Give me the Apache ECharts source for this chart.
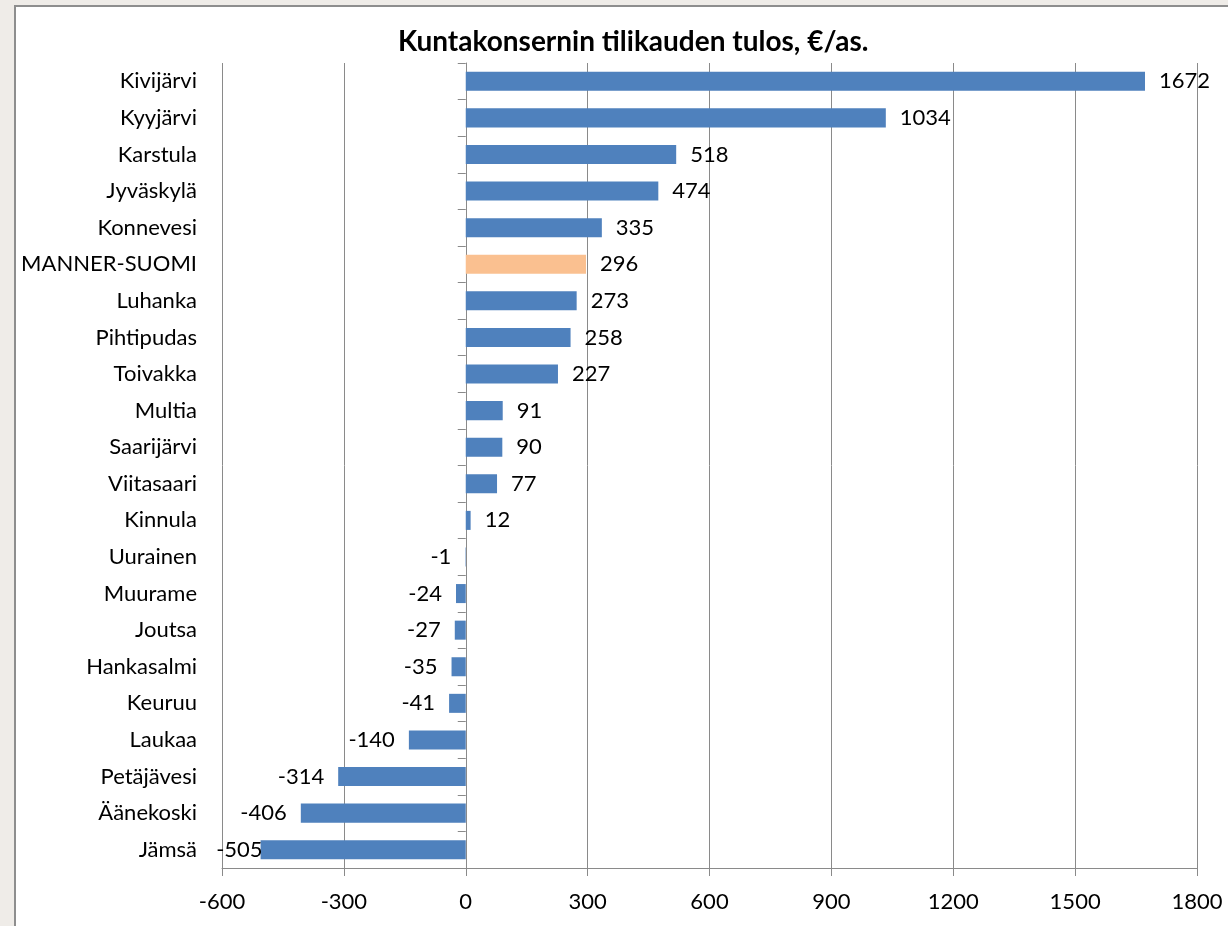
<!DOCTYPE html>
<html>
<head>
<meta charset="utf-8">
<script src="https://cdn.jsdelivr.net/npm/echarts@6/dist/echarts.min.js"></script>
<style>
  html, body { margin: 0; padding: 0; background: #EFECE8; }
  #frame { position: absolute; left: 14px; top: 5px; width: 1300px; height: 1000px;
           background: #fff; border: 2px solid #8e8e8e; }
  #chart { position: absolute; left: 0; top: 0; width: 1228px; height: 926px; }
</style>
</head>
<body>
<div id="frame"></div>
<div id="chart"></div>
<script>
// Municipalities, top to bottom
const municipalities = [
  'Kivijärvi', 'Kyyjärvi', 'Karstula', 'Jyväskylä', 'Konnevesi', 'MANNER-SUOMI',
  'Luhanka', 'Pihtipudas', 'Toivakka', 'Multia', 'Saarijärvi', 'Viitasaari',
  'Kinnula', 'Uurainen', 'Muurame', 'Joutsa', 'Hankasalmi', 'Keuruu',
  'Laukaa', 'Petäjävesi', 'Äänekoski', 'Jämsä'
];
// Group result of the municipal consortium, €/inhabitant
const results = [
  1672, 1034, 518, 474, 335, 296,
  273, 258, 227, 91, 90, 77,
  12, -1, -24, -27, -35, -41,
  -140, -314, -406, -505
];
const referenceName = 'MANNER-SUOMI';
const xTicks = { min: -600, max: 1800, step: 300 };

const FONT = 'Lato, "Open Sans", sans-serif';
const FS = 22;
const barColor = '#4F81BD';
const refColor = '#FAC090';
const gridColor = '#8a8a8a';

const seriesData = results.map((v, i) => {
  const item = { value: v, itemStyle: { color: municipalities[i] === referenceName ? refColor : barColor } };
  const label = { position: v < 0 ? 'left' : 'right' };
  // the longest negative label is pushed back inside the plot edge
  if (v < xTicks.min + 110) label.offset = [16, 0];
  item.label = label;
  return item;
});

const chart = echarts.init(document.getElementById('chart'), null, { renderer: 'canvas' });
chart.setOption({
  animation: false,
  title: {
    text: 'Kuntakonsernin tilikauden tulos, €/as.',
    left: 393, top: 23,
    textStyle: { fontFamily: FONT, fontWeight: 'bold', fontSize: 28, color: '#000' }
  },
  grid: { left: 222, right: 31, top: 63, bottom: 58 },
  xAxis: {
    type: 'value', min: xTicks.min, max: xTicks.max, interval: xTicks.step,
    axisLine: { show: true, lineStyle: { color: gridColor, width: 1 } },
    axisTick: { show: true, length: 8, lineStyle: { color: gridColor } },
    axisLabel: { fontFamily: FONT, fontSize: FS, color: '#000', margin: 23, formatter: v => String(v) },
    splitLine: { show: true, lineStyle: { color: gridColor, width: 1 } }
  },
  yAxis: [
    {
      type: 'category', data: municipalities, inverse: true, position: 'left',
      axisLine: { show: false, onZero: false }, axisTick: { show: false },
      axisLabel: { fontFamily: FONT, fontSize: FS, color: '#000', margin: 25 }
    },
    {
      type: 'category', data: municipalities, inverse: true, position: 'left',
      axisLine: { show: true, onZero: true, lineStyle: { color: gridColor, width: 1 } },
      axisTick: { show: true, length: 8, inside: false, lineStyle: { color: gridColor } },
      axisLabel: { show: false }, splitLine: { show: false }
    }
  ],
  series: [{
    type: 'bar', yAxisIndex: 0, barWidth: '52%',
    data: seriesData,
    label: { show: true, fontFamily: FONT, fontSize: FS, color: '#000', distance: 14 }
  }]
});
</script>
</body>
</html>
